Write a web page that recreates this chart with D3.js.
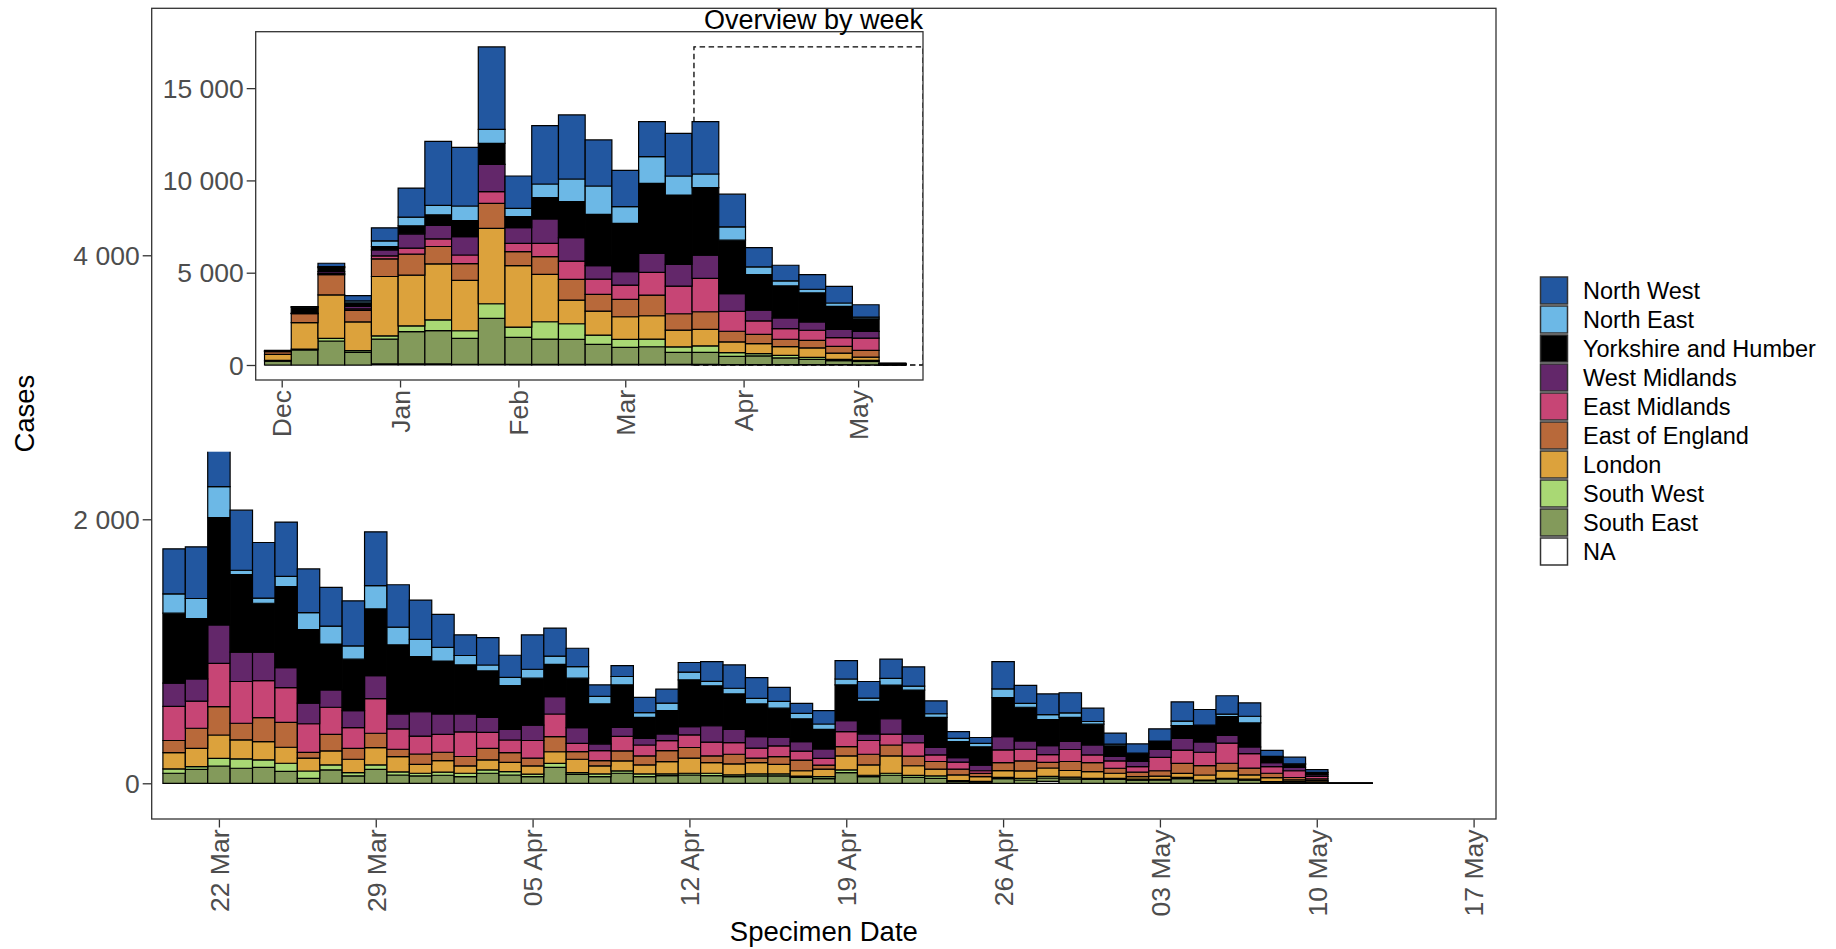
<!DOCTYPE html>
<html>
<head>
<meta charset="utf-8">
<script src="https://cdn.jsdelivr.net/npm/d3@7"></script>
<style>
  html, body { margin: 0; padding: 0; background: #fff; }
  svg { display: block; }
  text { font-family: "Liberation Sans", Arial, Helvetica, sans-serif; }
</style>
</head>
<body>
<svg id="chart" width="1836" height="949"></svg>
<script>
// ---- Regions (legend order, top of stack first) and fills ----
const regions = ["North West", "North East", "Yorkshire and Humber", "West Midlands",
  "East Midlands", "East of England", "London", "South West", "South East", "NA"];
const regionFills = ["#2257A0", "#6CB8E6", "#000000", "#63276A",
  "#C74575", "#B8693A", "#DCA23C", "#A9D874", "#839A5B", "#FFFFFF"];

// ---- Daily cases by specimen date, 20 Mar 2021 to 12 May 2021 ----
const dailyFirst = "2021-03-20";
const dailyLast = "2021-05-12";
const dailyNorthWest = [341,391,584,455,422,412,331,293,341,407,321,298,250,157,207,167,260,212,139,88,83,116,
  106,73,149,177,157,106,76,101,139,126,146,146,98,51,45,207,136,157,152,101,83,71,
  93,146,119,139,101,45,51,20,0,0];
const dailyNorthEast = [146,152,235,33,38,76,129,136,101,177,134,131,104,71,45,63,68,63,88,56,63,35,
  56,58,33,43,43,51,40,40,45,25,51,30,28,25,25,66,30,38,35,20,13,5,
  5,33,3,18,51,2,2,5,0,0];
const dailyYorkshire = [530,457,813,588,371,614,556,348,389,505,523,417,401,371,351,331,356,245,374,303,323,159,
  177,354,303,268,247,220,174,149,270,245,255,333,227,121,139,295,255,197,182,157,81,58,
  58,98,124,144,182,45,25,13,0,0];
const dailyWestMidlands = [177,169,290,222,215,152,157,131,129,174,114,184,154,136,114,81,116,131,119,51,68,51,
  51,63,124,101,88,66,71,71,83,51,116,66,56,35,43,101,63,68,61,76,33,38,
  61,88,78,58,51,30,25,13,0,0];
const dailyEastMidlands = [258,205,328,316,280,263,217,205,157,263,154,136,136,187,121,96,134,172,63,76,109,83,
  76,96,104,88,76,81,68,51,114,104,83,101,51,53,20,96,88,58,91,58,56,43,
  101,101,101,152,109,51,51,18,0,0];
const dailyEastOfEngland = [91,152,215,126,182,189,43,126,83,109,56,78,63,71,88,73,58,114,58,40,76,68,
  83,81,51,73,33,58,81,30,71,81,83,73,58,43,25,61,76,43,68,68,38,33,
  40,76,71,58,51,33,18,13,0,0];
const dailyLondon = [124,139,177,144,139,121,98,106,101,131,116,68,88,56,76,71,63,88,101,61,76,68,
  93,114,81,83,86,73,40,58,106,78,131,73,51,43,35,51,56,63,51,51,38,20,
  25,30,38,56,33,30,13,10,0,0];
const dailySouthWest = [33,20,58,71,56,61,55,38,25,33,23,20,23,25,25,25,18,30,13,20,18,20,
  13,13,18,13,15,15,10,15,20,10,15,15,18,8,5,10,13,13,13,8,8,8,
  5,10,5,5,8,3,3,3,0,0];
const dailySouthEast = [76,106,131,114,121,91,38,101,56,106,63,56,61,51,76,63,51,121,68,51,76,51,
  58,63,58,51,56,56,45,35,81,51,61,45,38,13,10,35,25,25,33,30,30,23,
  25,35,20,33,23,10,10,8,0,0];
const dailyNA = [0,0,0,0,0,0,0,0,0,0,0,0,0,0,0,0,0,0,0,0,0,0,
  0,0,0,0,0,0,0,0,0,0,0,0,0,0,0,0,0,15,0,0,0,0,
  0,0,0,0,0,0,0,0,0,0];

// ---- Weekly overview (week commencing) ----
const weekStarts = ["2020-11-30","2020-12-07","2020-12-14","2020-12-21","2020-12-28","2021-01-04",
  "2021-01-11","2021-01-18","2021-01-25","2021-02-01","2021-02-08","2021-02-15","2021-02-22",
  "2021-03-01","2021-03-08","2021-03-15","2021-03-22","2021-03-29","2021-04-05","2021-04-12",
  "2021-04-19","2021-04-26","2021-05-03","2021-05-10"];
const weeklyNorthWest = [10,20,181,289,705,1572,3469,3180,4463,1753,3162,3469,2494,1970,1897,2313,2837,1771,1048,849,795,904,669,20];
const weeklyNorthEast = [5,10,54,108,307,470,506,795,759,452,741,1229,1536,904,1446,1030,741,723,416,271,199,181,90,5];
const weeklyYorkshire = [40,330,217,181,181,434,578,867,1138,596,1156,1952,2783,2620,3795,3759,3650,2891,1934,1735,1572,1247,687,13];
const weeklyWestMidlands = [10,10,108,145,325,777,723,994,1482,849,1319,1265,723,723,1030,1175,1265,958,578,578,452,452,361,13];
const weeklyEastMidlands = [10,10,54,72,163,325,416,470,632,452,723,994,831,777,1229,1500,1807,1084,723,578,542,470,669,18];
const weeklyEastOfEngland = [150,488,1102,632,958,1138,940,904,1355,759,958,1120,904,940,1120,885,958,578,506,398,416,361,361,13];
const weeklyLondon = [320,1428,2349,1554,3216,2747,3036,2729,4084,3325,2566,1283,1301,1229,1265,904,885,578,542,470,506,343,181,10];
const weeklySouthWest = [35,54,145,90,181,307,578,416,795,560,940,849,506,434,416,307,361,199,126,145,108,72,54,3];
const weeklySouthEast = [215,813,1301,687,1337,1753,1807,1409,2494,1464,1373,1355,1084,922,958,650,650,452,470,361,289,217,181,8];
const weeklyNA = [0,0,0,0,60,60,60,30,30,30,30,30,30,30,30,30,30,20,20,20,20,15,10,0];

// ---- Axis ticks ----
const countTicks = [0, 2000, 4000];
const insetCountTicks = [0, 5000, 10000, 15000];
const dayTicks = ["2021-03-22","2021-03-29","2021-04-05","2021-04-12","2021-04-19",
  "2021-04-26","2021-05-03","2021-05-10","2021-05-17"];
const monthTicks = ["2020-12-01","2021-01-01","2021-02-01","2021-03-01","2021-04-01","2021-05-01"];

// ---------------------------------------------------------------
const parse = d3.utcParse("%Y-%m-%d");
const svg = d3.select("#chart");
const fillOf = d3.scaleOrdinal(regions, regionFills);
const stackKeys = regions.slice().reverse();   // bottom of stack first
const countFormat = v => d3.format(",")(v).replace(/,/g, " ");
const HALF_DAY = 12 * 3600 * 1000;

function tableFrom(dates, cols) {
  return dates.map((d, i) => {
    const row = { date: d };
    regions.forEach((r, k) => { row[r] = cols[k][i]; });
    return row;
  });
}

const dailyDates = d3.utcDay.range(parse(dailyFirst), d3.utcDay.offset(parse(dailyLast), 1));
const daily = tableFrom(dailyDates, [dailyNorthWest, dailyNorthEast, dailyYorkshire, dailyWestMidlands,
  dailyEastMidlands, dailyEastOfEngland, dailyLondon, dailySouthWest, dailySouthEast, dailyNA]);
const weekly = tableFrom(weekStarts.map(parse), [weeklyNorthWest, weeklyNorthEast, weeklyYorkshire,
  weeklyWestMidlands, weeklyEastMidlands, weeklyEastOfEngland, weeklyLondon, weeklySouthWest,
  weeklySouthEast, weeklyNA]);

const stacker = d3.stack().keys(stackKeys);
const rectPath = (x0, x1, y0, y1) => `M${x0},${y0}H${x1}V${y1}H${x0}Z`;

// ================= Main panel: daily cases =================
const main = { left: 151.7, right: 1496, top: 8.3, bottom: 819 };
const x = d3.scaleUtc().domain([parse("2021-03-19"), parse("2021-05-18")]).range([main.left, main.right]);
const y = d3.scaleLinear().domain([-270.5, 5871]).range([main.bottom, main.top]);

svg.append("clipPath").attr("id", "mainClip").append("rect")
  .attr("x", main.left).attr("y", main.top)
  .attr("width", main.right - main.left).attr("height", main.bottom - main.top);

const mainBars = svg.append("g").attr("clip-path", "url(#mainClip)");
stacker(daily).forEach(layer => {
  mainBars.append("g").selectAll("path").data(layer).join("path")
    .attr("d", d => rectPath(x(+d.data.date - HALF_DAY), x(+d.data.date + HALF_DAY), y(d[0]), y(d[1])))
    .attr("fill", fillOf(layer.key))
    .attr("stroke", "#000").attr("stroke-width", 1.2);
});

svg.append("rect").attr("x", main.left).attr("y", main.top)
  .attr("width", main.right - main.left).attr("height", main.bottom - main.top)
  .attr("fill", "none").attr("stroke", "#333").attr("stroke-width", 1.3);

const yAxis = svg.append("g").attr("transform", `translate(${main.left},0)`)
  .call(d3.axisLeft(y).tickValues(countTicks).tickFormat(countFormat).tickSize(9).tickPadding(3).tickSizeOuter(0));
const xAxis = svg.append("g").attr("transform", `translate(0,${main.bottom + 0.5})`)
  .call(d3.axisBottom(x).tickValues(dayTicks.map(parse)).tickFormat(d3.utcFormat("%d %b")).tickSize(8).tickSizeOuter(0));
[yAxis, xAxis].forEach(a => {
  a.select(".domain").remove();
  a.selectAll(".tick line").attr("stroke", "#333").attr("stroke-width", 1.3);
  a.selectAll(".tick text").attr("fill", "#4D4D4D").style("font-size", "26.5px")
    .style("font-family", "'Liberation Sans', Arial, sans-serif");
});
yAxis.selectAll(".tick text").attr("dy", "0.35em");
xAxis.selectAll(".tick text")
  .attr("transform", "rotate(-90)").attr("text-anchor", "end")
  .attr("x", -10).attr("y", 0).attr("dy", "0.35em");

svg.append("text").attr("transform", `translate(34.3,${(main.top + main.bottom) / 2}) rotate(-90)`)
  .attr("text-anchor", "middle").style("font-size", "27.5px").attr("fill", "#000").text("Cases");
svg.append("text").attr("x", (main.left + main.right) / 2).attr("y", 941)
  .attr("text-anchor", "middle").style("font-size", "27.5px").attr("fill", "#000").text("Specimen Date");

// ================= Inset: overview by week =================
svg.append("rect").attr("x", 155).attr("y", 9.6).attr("width", 790).attr("height", 451.7 - 9.6)
  .attr("fill", "#fff");

const inset = { left: 255.7, right: 923, top: 31.7, bottom: 380 };
const xi = d3.scaleUtc().domain([new Date(Date.UTC(2020, 10, 24, 4, 30)), parse("2021-05-18")])
  .range([inset.left, inset.right]);
const yi = d3.scaleLinear().domain([-813, 18057]).range([inset.bottom, inset.top]);
const HALF_WEEK = 3.5 * 24 * 3600 * 1000;

svg.append("clipPath").attr("id", "insetClip").append("rect")
  .attr("x", inset.left).attr("y", inset.top)
  .attr("width", inset.right - inset.left).attr("height", inset.bottom - inset.top);

const insetLayer = svg.append("g").attr("clip-path", "url(#insetClip)");

// dashed box marking the span shown in the daily panel (sits behind the bars)
const weeklyMax = d3.max(weekly, r => d3.sum(regions, k => r[k]));
insetLayer.append("path")
  .attr("d", rectPath(xi(parse("2021-03-19")), xi(parse("2021-05-18")), yi(0), yi(weeklyMax)))
  .attr("fill", "none").attr("stroke", "#000").attr("stroke-width", 1.3).attr("stroke-dasharray", "5.5,3.5");

stacker(weekly).forEach(layer => {
  insetLayer.append("g").selectAll("path").data(layer).join("path")
    .attr("d", d => rectPath(xi(+d.data.date - HALF_WEEK), xi(+d.data.date + HALF_WEEK), yi(d[0]), yi(d[1])))
    .attr("fill", fillOf(layer.key))
    .attr("stroke", "#000").attr("stroke-width", 1.2);
});

svg.append("rect").attr("x", inset.left).attr("y", inset.top)
  .attr("width", inset.right - inset.left).attr("height", inset.bottom - inset.top)
  .attr("fill", "none").attr("stroke", "#333").attr("stroke-width", 1.3);

const yiAxis = svg.append("g").attr("transform", `translate(${inset.left},0)`)
  .call(d3.axisLeft(yi).tickValues(insetCountTicks).tickFormat(countFormat).tickSize(9).tickPadding(3).tickSizeOuter(0));
const xiAxis = svg.append("g").attr("transform", `translate(0,${inset.bottom + 0.5})`)
  .call(d3.axisBottom(xi).tickValues(monthTicks.map(parse)).tickFormat(d3.utcFormat("%b")).tickSize(7).tickSizeOuter(0));
[yiAxis, xiAxis].forEach(a => {
  a.select(".domain").remove();
  a.selectAll(".tick line").attr("stroke", "#333").attr("stroke-width", 1.3);
  a.selectAll(".tick text").attr("fill", "#4D4D4D").style("font-size", "26.5px")
    .style("font-family", "'Liberation Sans', Arial, sans-serif");
});
yiAxis.selectAll(".tick text").attr("dy", "0.35em");
xiAxis.selectAll(".tick text")
  .attr("transform", "rotate(-90)").attr("text-anchor", "end")
  .attr("x", -9.5).attr("y", 0).attr("dy", "0.35em");

svg.append("text").attr("x", 923).attr("y", 28.5).attr("text-anchor", "end")
  .style("font-size", "27px").attr("fill", "#000").text("Overview by week");

// ================= Legend =================
const legend = svg.append("g").attr("transform", "translate(1540.5,277)");
const rowH = 29;
regions.forEach((r, i) => {
  const g = legend.append("g").attr("transform", `translate(0,${i * rowH})`);
  g.append("rect").attr("width", 27).attr("height", 27)
    .attr("fill", fillOf(r)).attr("stroke", "#333").attr("stroke-width", 1.5);
  g.append("text").attr("x", 42.5).attr("y", 13.5).attr("dy", "0.35em")
    .style("font-size", "23.5px").attr("fill", "#000").text(r);
});
</script>
</body>
</html>
